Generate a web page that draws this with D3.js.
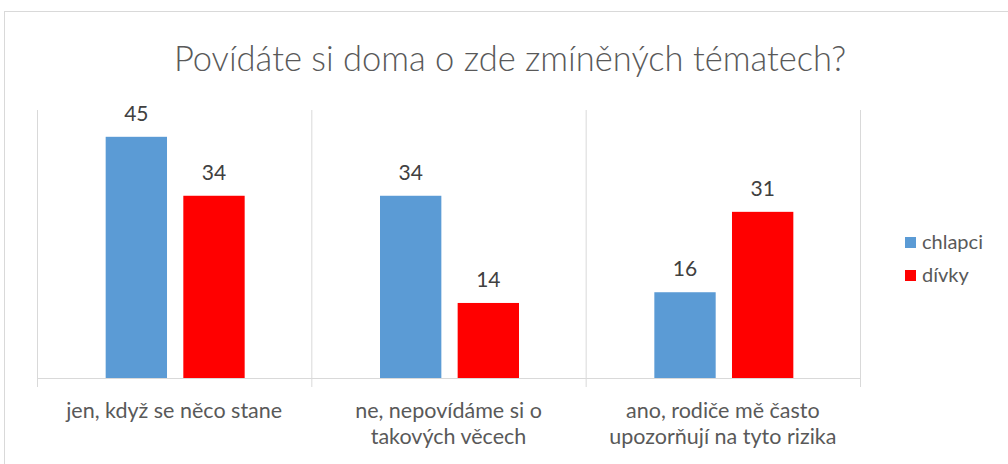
<!DOCTYPE html>
<html>
<head>
<meta charset="utf-8">
<script src="https://cdn.jsdelivr.net/npm/d3@7"></script>
<style>
  body { margin: 0; background: #fff; }
  svg text { font-family: Lato, "Open Sans", sans-serif; }
</style>
</head>
<body>
<div id="chart"></div>
<script>
const categories = [
  ['jen, když se něco stane'],
  ['ne, nepovídáme si o', 'takových věcech'],
  ['ano, rodiče mě často', 'upozorňují na tyto rizika']
];
const seriesNames = ['chlapci', 'dívky'];
const chlapci = [45, 34, 16];
const divky = [34, 14, 31];
const colors = ['#5b9bd5', '#ff0000'];

const width = 1008;
const height = 464;
const plot = { left: 37, right: 860, top: 110, bottom: 378 };

const svg = d3.select('#chart').append('svg')
  .attr('width', width)
  .attr('height', height);

// chart frame
svg.append('rect')
  .attr('x', 4.5)
  .attr('y', 11.5)
  .attr('width', width + 10)
  .attr('height', height + 10)
  .style('fill', '#fff')
  .style('stroke', '#d9d9d9');

svg.append('text')
  .attr('x', 510)
  .attr('y', 71)
  .attr('text-anchor', 'middle')
  .style('font-size', '34.5px')
  .style('font-weight', 300)
  .style('fill', '#595959')
  .text('Povídáte si doma o zde zmíněných tématech?');

const keys = categories.map((d, i) => i);
const x0 = d3.scaleBand()
  .domain(keys)
  .range([plot.left, plot.right])
  .padding(0);

const x1 = d3.scaleBand()
  .domain(seriesNames)
  .range([x0.bandwidth() / 2 - 68.5, x0.bandwidth() / 2 + 70.5])
  .paddingInner(0.21);

const y = d3.scaleLinear()
  .domain([0, 50])
  .range([plot.bottom, plot.top]);

// category separators
const sepX = keys.map((k) => x0(k)).concat([plot.right]);
svg.append('g')
  .selectAll('line')
  .data(sepX)
  .join('line')
  .attr('x1', (d) => d + 0.5)
  .attr('x2', (d) => d + 0.5)
  .attr('y1', plot.top)
  .attr('y2', plot.bottom + 9)
  .style('stroke', '#d9d9d9');

svg.append('line')
  .attr('x1', plot.left)
  .attr('x2', plot.right + 1)
  .attr('y1', plot.bottom + 0.5)
  .attr('y2', plot.bottom + 0.5)
  .style('stroke', '#d9d9d9');

const rows = keys.map((k) => ({
  key: k,
  values: [
    { name: 'chlapci', value: chlapci[k] },
    { name: 'dívky', value: divky[k] }
  ]
}));

const groups = svg.append('g')
  .selectAll('g')
  .data(rows)
  .join('g')
  .attr('transform', (d) => `translate(${x0(d.key)},0)`);

groups.selectAll('rect')
  .data((d) => d.values)
  .join('rect')
  .attr('x', (d) => x1(d.name))
  .attr('y', (d) => y(d.value))
  .attr('width', x1.bandwidth())
  .attr('height', (d) => y(0) - y(d.value))
  .style('fill', (d, i) => colors[i]);

groups.selectAll('text.value')
  .data((d) => d.values)
  .join('text')
  .attr('class', 'value')
  .attr('x', (d) => x1(d.name) + x1.bandwidth() / 2)
  .attr('y', (d) => y(d.value) - 16)
  .attr('text-anchor', 'middle')
  .style('font-size', '21px')
  .style('fill', '#404040')
  .text((d) => d.value);

// category labels
const catLabels = svg.append('g')
  .selectAll('text')
  .data(rows)
  .join('text')
  .attr('x', (d) => x0(d.key) + x0.bandwidth() / 2)
  .attr('y', 418)
  .attr('text-anchor', 'middle')
  .style('font-size', '21.5px')
  .style('fill', '#595959');

catLabels.selectAll('tspan')
  .data((d) => categories[d.key].map((t) => ({ t, x: x0(d.key) + x0.bandwidth() / 2 })))
  .join('tspan')
  .attr('x', (d) => d.x)
  .attr('dy', (d, i) => (i === 0 ? 0 : 26))
  .text((d) => d.t);

// legend
const legend = svg.append('g')
  .selectAll('g')
  .data(seriesNames)
  .join('g')
  .attr('transform', (d, i) => `translate(905,${237 + i * 33})`);

legend.append('rect')
  .attr('width', 11)
  .attr('height', 11)
  .style('fill', (d, i) => colors[i]);

legend.append('text')
  .attr('x', 17)
  .attr('y', 12)
  .style('font-size', '20px')
  .style('fill', '#595959')
  .text((d) => d);
</script>
</body>
</html>
